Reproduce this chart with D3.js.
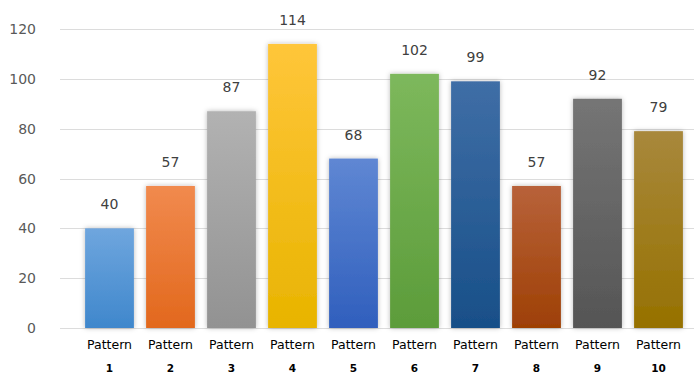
<!DOCTYPE html>
<html>
<head>
<meta charset="utf-8">
<script src="https://cdn.jsdelivr.net/npm/d3@7"></script>
<style>
  html, body { margin: 0; padding: 0; background: #fff; }
  svg { display: block; }
</style>
</head>
<body>
<svg id="chart" width="694" height="376"></svg>
<script>
// Chart data
const categories = ["1", "2", "3", "4", "5", "6", "7", "8", "9", "10"];
const values = [40, 57, 87, 114, 68, 102, 99, 57, 92, 79];
const yTicks = [0, 20, 40, 60, 80, 100, 120];
// Gradient stops per bar: [top, bottom]
const colorsTop = ["#6fa6de", "#f18a4e", "#b2b2b2", "#ffc63a", "#5f87d3", "#7db85c", "#3f6ea6", "#b8623a", "#757575", "#a8883c"];
const colorsBottom = ["#3f87cc", "#e2681d", "#929292", "#e8b400", "#305fbd", "#5c9c3a", "#184f88", "#9e4005", "#555555", "#967100"];

const svg = d3.select("#chart");
const W = 694, H = 376;

const x = d3.scaleBand().domain(categories).range([79, 689]).paddingInner(0.2).paddingOuter(0.1);
const y = d3.scaleLinear().domain([0, 120]).range([328, 29]);

const defs = svg.append("defs");
const shadow = defs.append("filter").attr("id", "shadow")
  .attr("x", "-30%").attr("y", "-10%").attr("width", "160%").attr("height", "120%");
shadow.append("feDropShadow").attr("dx", 0).attr("dy", 0).attr("stdDeviation", 2.5)
  .attr("flood-color", "#000").attr("flood-opacity", 0.28);

categories.forEach((c, i) => {
  const g = defs.append("linearGradient").attr("id", "grad" + i)
    .attr("x1", 0).attr("y1", 0).attr("x2", 0).attr("y2", 1);
  g.append("stop").attr("offset", "0%").attr("stop-color", colorsTop[i]);
  g.append("stop").attr("offset", "100%").attr("stop-color", colorsBottom[i]);
});

// Horizontal gridlines
svg.append("g").selectAll("line").data(yTicks).join("line")
  .attr("x1", 60).attr("x2", W)
  .attr("y1", d => Math.round(y(d)) + 0.5).attr("y2", d => Math.round(y(d)) + 0.5)
  .attr("stroke", "#dcdcdc").attr("stroke-width", 1.2);

// Y-axis labels
svg.append("g").selectAll("text").data(yTicks).join("text")
  .attr("x", 36).attr("y", d => y(d) + 5)
  .attr("text-anchor", "end")
  .attr("font-family", "'DejaVu Sans', sans-serif").attr("font-size", 14)
  .attr("fill", "#595959")
  .text(d => d);

// Bars
svg.append("g").selectAll("rect").data(values).join("rect")
  .attr("x", (d, i) => x(categories[i]))
  .attr("y", d => y(d))
  .attr("width", x.bandwidth())
  .attr("height", d => y(0) - y(d))
  .attr("fill", (d, i) => `url(#grad${i})`)
  .attr("filter", "url(#shadow)");

// Value labels
svg.append("g").selectAll("text").data(values).join("text")
  .attr("x", (d, i) => x(categories[i]) + x.bandwidth() / 2)
  .attr("y", d => y(d) - 19)
  .attr("text-anchor", "middle")
  .attr("font-family", "'DejaVu Sans', sans-serif").attr("font-size", 14)
  .attr("fill", "#404040")
  .text(d => d);

// Category labels (two lines)
const xl = svg.append("g").selectAll("g").data(categories).join("g")
  .attr("transform", c => `translate(${x(c) + x.bandwidth() / 2},0)`);
xl.append("text").attr("y", 349).attr("text-anchor", "middle")
  .attr("font-family", "'DejaVu Sans', sans-serif").attr("font-size", 12.5)
  .attr("fill", "#000").text("Pattern");
xl.append("text").attr("y", 372).attr("text-anchor", "middle")
  .attr("font-family", "'DejaVu Sans', sans-serif").attr("font-size", 10.5)
  .attr("font-weight", "bold")
  .attr("fill", "#000").text(c => c);
</script>
</body>
</html>
